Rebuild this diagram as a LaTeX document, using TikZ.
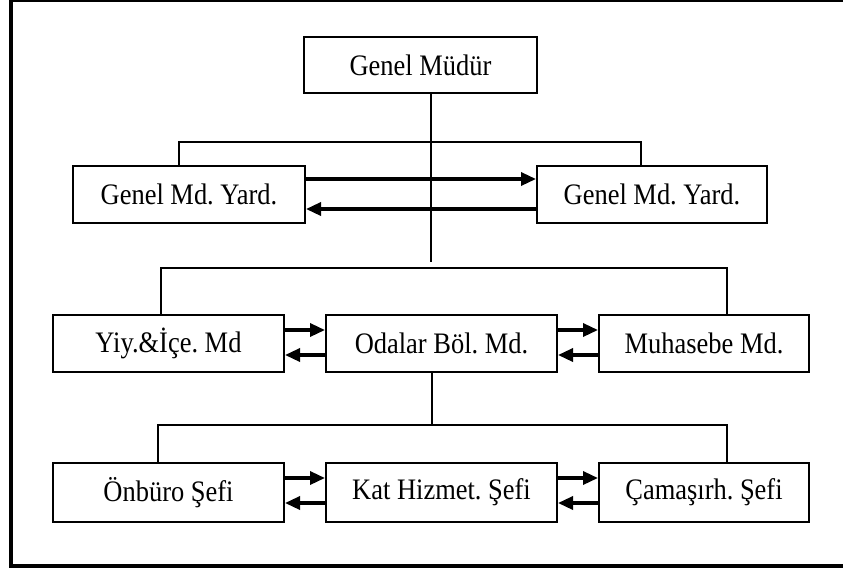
\documentclass[tikz,border=0pt]{standalone}
\usepackage{fontspec}
\setmainfont{Liberation Serif}[FakeStretch=0.89]
\usetikzlibrary{arrows.meta}
\frenchspacing
\tikzset{
  box/.style={draw, line width=1.5pt, rectangle, inner sep=0pt, fill=white,
    font=\fontsize{22.3}{26}\selectfont},
  conn/.style={line width=1pt},
  arr/.style={line width=2.5pt, -{Triangle[length=11.25pt,width=9.75pt]}},
  frame/.style={line width=3pt}
}
\begin{document}
\frenchspacing
\begin{tikzpicture}[x=0.75pt,y=-0.75pt]
\useasboundingbox (0,0) rectangle (843,569);
\clip (0,0) rectangle (843,569);
% frame
\draw[frame] (11,-10) -- (11,566) -- (860,566);
\draw[frame] (11,0) -- (860,0);
% boxes
\node[box, minimum width=174.75pt, minimum height=42pt] (gm) at (420.5,65) {Genel Müdür};
\node[box, minimum width=174pt, minimum height=42.75pt] (yl) at (189,194.5) {Genel Md. Yard.};
\node[box, minimum width=172.5pt, minimum height=42.75pt] (yr) at (652,194.5) {Genel Md. Yard.};
\node[box, minimum width=173.25pt, minimum height=42.75pt] (m1) at (168.5,343.5) {Yiy.\&İçe. Md};
\node[box, minimum width=173.25pt, minimum height=42.75pt] (m2) at (441.5,343.5) {Odalar Böl. Md.};
\node[box, minimum width=157.5pt, minimum height=42.75pt] (m3) at (704,343.5) {Muhasebe Md.};
\node[box, minimum width=173.25pt, minimum height=44.25pt] (b1) at (168.5,492.5) {Önbüro Şefi};
\node[box, minimum width=173.25pt, minimum height=44.25pt] (b2) at (441.5,492.5) {Kat Hizmet. Şefi};
\node[box, minimum width=157.5pt, minimum height=44.25pt] (b3) at (704,492.5) {Çamaşırh. Şefi};
% helper coordinates
\coordinate (j1) at (431,262);
\coordinate (h1l) at (179,142);
\coordinate (h1r) at (641,142);
\coordinate (h2l) at (161,268);
\coordinate (h2r) at (727,268);
\coordinate (j2) at (432,425);
\coordinate (h3l) at (158,425);
\coordinate (h3r) at (727,425);
\coordinate (ya1) at (0,179);
\coordinate (ya2) at (0,209);
\coordinate (ym1) at (0,330);
\coordinate (ym2) at (0,355);
\coordinate (yb1) at (0,478);
\coordinate (yb2) at (0,503);
% connectors
\draw[conn] (gm.south -| j1) -- (j1);
\draw[conn] (yl.north -| h1l) -- (h1l) -- (h1r) -- (yr.north -| h1r);
\draw[conn] (m1.north -| h2l) -- (h2l) -- (h2r) -- (m3.north -| h2r);
\draw[conn] (m2.south -| j2) -- (j2);
\draw[conn] (b1.north -| h3l) -- (h3l) -- (h3r) -- (b3.north -| h3r);
% arrows
\draw[arr] (yl.east |- ya1) -- (yr.west |- ya1);
\draw[arr] (yr.west |- ya2) -- (yl.east |- ya2);
\draw[arr] (m1.east |- ym1) -- (m2.west |- ym1);
\draw[arr] (m2.west |- ym2) -- (m1.east |- ym2);
\draw[arr] (m2.east |- ym1) -- (m3.west |- ym1);
\draw[arr] (m3.west |- ym2) -- (m2.east |- ym2);
\draw[arr] (b1.east |- yb1) -- (b2.west |- yb1);
\draw[arr] (b2.west |- yb2) -- (b1.east |- yb2);
\draw[arr] (b2.east |- yb1) -- (b3.west |- yb1);
\draw[arr] (b3.west |- yb2) -- (b2.east |- yb2);
\end{tikzpicture}
\end{document}
